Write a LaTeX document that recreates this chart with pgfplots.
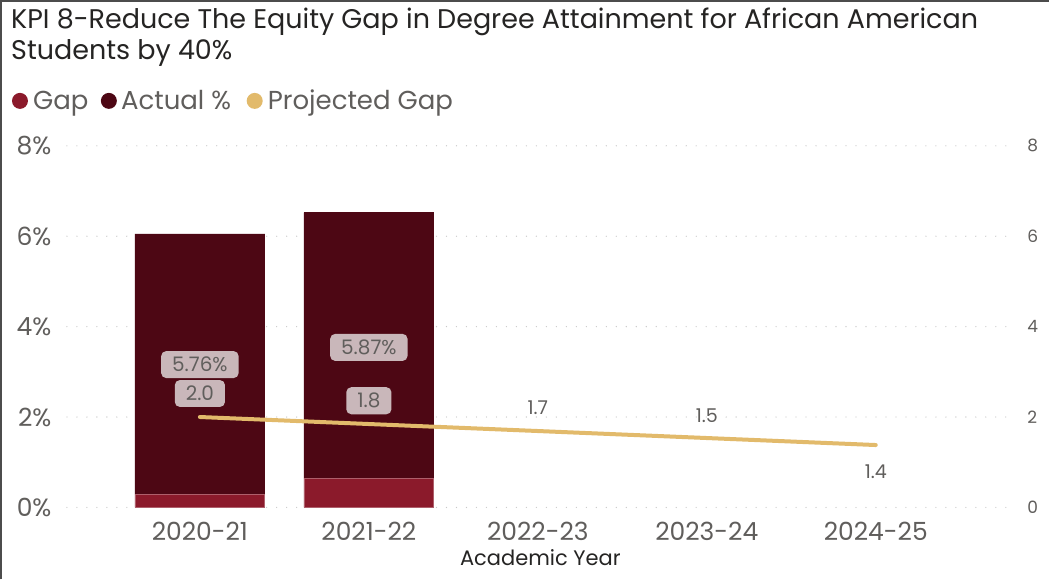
\documentclass[border=0pt]{standalone}
\usepackage{pgfplots}
\pgfplotsset{compat=1.18}
\usepackage{fontspec}
\setmainfont{Poppins}
\definecolor{gapc}{HTML}{8B1A2B}
\definecolor{actc}{HTML}{4D0714}
\definecolor{projc}{HTML}{E2BA6B}
\definecolor{txt}{HTML}{605E5C}
\definecolor{ttl}{HTML}{252423}
\definecolor{lbl}{HTML}{C9B7BA}
\definecolor{gridc}{HTML}{C8C8C8}
\begin{document}
\begin{tikzpicture}[x=1pt,y=1pt]
\fill[white] (0,0) rectangle (1050,-580);
\draw[line width=2.5pt, color=black!70] (1.25,-580) -- (1.25,-1.25) -- (1050,-1.25);
\node[anchor=base west, text=ttl, font=\fontsize{27}{30}\selectfont, inner sep=0] at (11,-29) {KPI 8-Reduce The Equity Gap in Degree Attainment for African American};
\node[anchor=base west, text=ttl, font=\fontsize{27}{30}\selectfont, inner sep=0] at (11,-60) {Students by 40\%};
% legend
\fill[gapc] (20,-101) circle (8);
\node[anchor=base west, text=txt, font=\fontsize{26}{28}\selectfont, inner sep=0] at (33,-110) {Gap};
\fill[actc] (109,-101) circle (8);
\node[anchor=base west, text=txt, font=\fontsize{26}{28}\selectfont, inner sep=0] at (121,-110) {Actual \%};
\fill[projc] (255,-101) circle (8);
\node[anchor=base west, text=txt, font=\fontsize{26}{28}\selectfont, inner sep=0] at (268,-110) {Projected Gap};
\begin{axis}[
  at={(67pt,-508pt)}, anchor=south west, scale only axis,
  width=948pt, height=362pt,
  xmin=-0.787, xmax=4.817, ymin=0, ymax=8,
  ybar stacked, bar width=130pt,
  axis line style={draw=none},
  tick style={draw=none},
  ytick={0,2,4,6,8},
  yticklabels={0\%,2\%,4\%,6\%,8\%},
  yticklabel style={text=txt, font=\fontsize{25}{28}\selectfont, xshift=-12pt},
  xtick={0,1,2,3,4},
  xticklabels={2020-21,2021-22,2022-23,2023-24,2024-25},
  xticklabel style={text=txt, font=\fontsize{25}{28}\selectfont, yshift=-11pt},
  ymajorgrids,
  grid style={color=gridc, line width=1.3pt, line cap=round, dash pattern=on 0pt off 10pt},
  xlabel={Academic Year},
  xlabel style={text=ttl, font=\fontsize{21}{24}\selectfont, yshift=-2pt},
]
\addplot[fill=gapc, draw=gapc!70!white, line width=0.8pt] coordinates {(0,0.29) (1,0.65)};
\addplot[fill=actc, draw=actc, line width=0.8pt] coordinates {(0,5.76) (1,5.87)};
\end{axis}
\begin{axis}[
  at={(67pt,-508pt)}, anchor=south west, scale only axis,
  width=948pt, height=362pt,
  xmin=-0.787, xmax=4.817, ymin=0, ymax=8,
  axis line style={draw=none},
  tick style={draw=none},
  axis y line*=right, axis x line=none,
  ytick={0,2,4,6,8},
  /pgf/number format/assume math mode=true,
  yticklabel style={text=txt, font=\fontsize{17}{19}\selectfont, xshift=10pt},
  clip=false,
]
\addplot[projc, line width=4pt, line cap=round, mark=none] coordinates {(0,2.0) (1,1.845) (2,1.69) (3,1.535) (4,1.38)};
\tikzset{lab/.style={fill=lbl, rounded corners=5pt, text=txt, font=\fontsize{20}{22}\selectfont, inner xsep=11pt, inner ysep=6pt}}
\node[lab] at (axis cs:0,3.16) {5.76\%};
\node[lab] at (axis cs:0,2.52) {2.0};
\node[lab] at (axis cs:1,3.54) {5.87\%};
\node[lab] at (axis cs:1,2.36) {1.8};
\node[text=txt, font=\fontsize{19}{20}\selectfont] at (axis cs:2,2.2) {1.7};
\node[text=txt, font=\fontsize{19}{20}\selectfont] at (axis cs:3,2.03) {1.5};
\node[text=txt, font=\fontsize{19}{20}\selectfont] at (axis cs:4,0.8) {1.4};
\end{axis}
\end{tikzpicture}
\end{document}
